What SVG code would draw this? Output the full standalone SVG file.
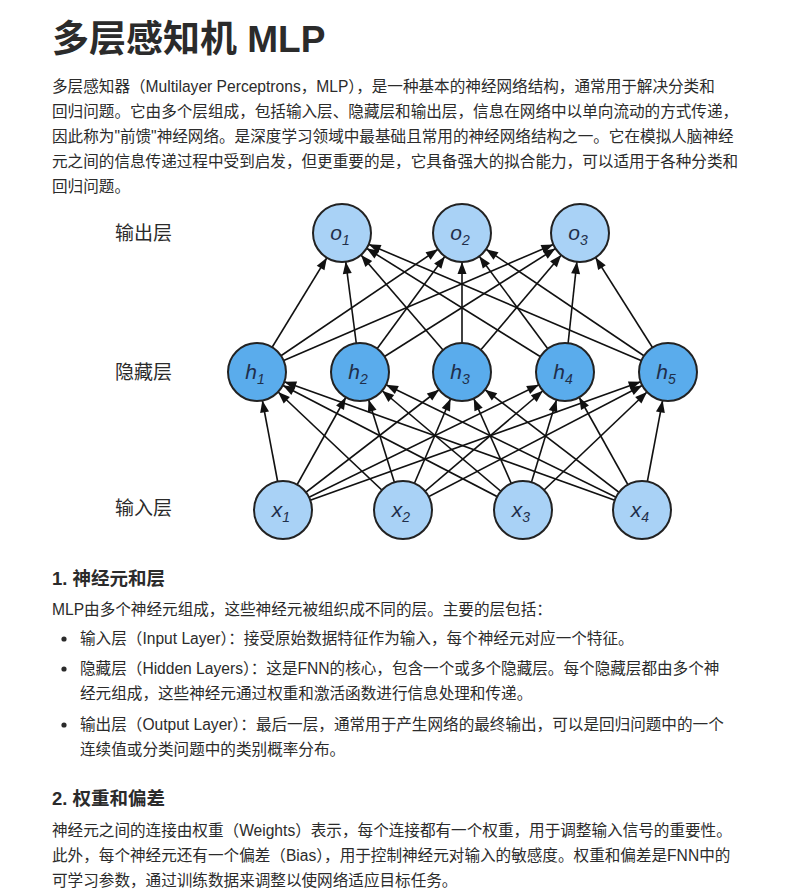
<svg xmlns="http://www.w3.org/2000/svg" width="800" height="890" viewBox="0 0 800 890">
<style>
.t{font-family:"Liberation Sans","Noto Sans CJK SC",sans-serif;fill:#2b2b2b}
.p{font-size:15.6px}
.n{stroke:#222;stroke-width:2}
.io{fill:#a9d2f6}
.h{fill:#5aacec}
.lb{font-family:"Liberation Sans",sans-serif;font-style:italic;font-size:21px;fill:#1f2f4a;text-anchor:middle}
.e{stroke:#111;stroke-width:1.6;marker-end:url(#a)}
</style>
<defs>
<marker id="a" markerUnits="userSpaceOnUse" markerWidth="60" markerHeight="20" viewBox="0 -6 60 12" refX="41" refY="0" orient="auto" overflow="visible">
<path d="M0,-4.5 L12,0 L0,4.5 Z" fill="#111"/>
</marker>
</defs>
<rect width="800" height="890" fill="#fff"/>
<text class="t" x="52" y="52" font-size="37" font-weight="bold">多层感知机 MLP</text>
<g class="t p">
<text x="52" y="92">多层感知器（Multilayer Perceptrons，MLP），是一种基本的神经网络结构，通常用于解决分类和</text>
<text x="52" y="117">回归问题。它由多个层组成，包括输入层、隐藏层和输出层，信息在网络中以单向流动的方式传递，</text>
<text x="52" y="142">因此称为"前馈"神经网络。是深度学习领域中最基础且常用的神经网络结构之一。它在模拟人脑神经</text>
<text x="52" y="167">元之间的信息传递过程中受到启发，但更重要的是，它具备强大的拟合能力，可以适用于各种分类和</text>
<text x="52" y="192">回归问题。</text>
</g>
<g class="t" font-size="19">
<text x="115" y="240">输出层</text>
<text x="115" y="379">隐藏层</text>
<text x="115" y="515">输入层</text>
</g>
<g id="connectors">
<line class="e" x1="283" y1="510" x2="257" y2="372"/><line class="e" x1="283" y1="510" x2="360" y2="372"/><line class="e" x1="283" y1="510" x2="462" y2="372"/><line class="e" x1="283" y1="510" x2="565" y2="372"/><line class="e" x1="283" y1="510" x2="668" y2="372"/>
<line class="e" x1="403" y1="510" x2="257" y2="372"/><line class="e" x1="403" y1="510" x2="360" y2="372"/><line class="e" x1="403" y1="510" x2="462" y2="372"/><line class="e" x1="403" y1="510" x2="565" y2="372"/><line class="e" x1="403" y1="510" x2="668" y2="372"/>
<line class="e" x1="523" y1="510" x2="257" y2="372"/><line class="e" x1="523" y1="510" x2="360" y2="372"/><line class="e" x1="523" y1="510" x2="462" y2="372"/><line class="e" x1="523" y1="510" x2="565" y2="372"/><line class="e" x1="523" y1="510" x2="668" y2="372"/>
<line class="e" x1="642" y1="510" x2="257" y2="372"/><line class="e" x1="642" y1="510" x2="360" y2="372"/><line class="e" x1="642" y1="510" x2="462" y2="372"/><line class="e" x1="642" y1="510" x2="565" y2="372"/><line class="e" x1="642" y1="510" x2="668" y2="372"/>
<line class="e" x1="257" y1="372" x2="342" y2="233"/><line class="e" x1="257" y1="372" x2="462" y2="233"/><line class="e" x1="257" y1="372" x2="580" y2="233"/>
<line class="e" x1="360" y1="372" x2="342" y2="233"/><line class="e" x1="360" y1="372" x2="462" y2="233"/><line class="e" x1="360" y1="372" x2="580" y2="233"/>
<line class="e" x1="462" y1="372" x2="342" y2="233"/><line class="e" x1="462" y1="372" x2="462" y2="233"/><line class="e" x1="462" y1="372" x2="580" y2="233"/>
<line class="e" x1="565" y1="372" x2="342" y2="233"/><line class="e" x1="565" y1="372" x2="462" y2="233"/><line class="e" x1="565" y1="372" x2="580" y2="233"/>
<line class="e" x1="668" y1="372" x2="342" y2="233"/><line class="e" x1="668" y1="372" x2="462" y2="233"/><line class="e" x1="668" y1="372" x2="580" y2="233"/>
</g>
<g id="o1"><circle class="n io" cx="342" cy="233" r="29"/><text class="lb" x="340" y="240">o<tspan font-size="14" dy="5">1</tspan></text></g>
<g id="o2"><circle class="n io" cx="462" cy="233" r="29"/><text class="lb" x="460" y="240">o<tspan font-size="14" dy="5">2</tspan></text></g>
<g id="o3"><circle class="n io" cx="580" cy="233" r="29"/><text class="lb" x="578" y="240">o<tspan font-size="14" dy="5">3</tspan></text></g>
<g id="h1"><circle class="n h" cx="257" cy="372" r="29"/><text class="lb" x="255" y="379">h<tspan font-size="14" dy="5">1</tspan></text></g>
<g id="h2"><circle class="n h" cx="360" cy="372" r="29"/><text class="lb" x="358" y="379">h<tspan font-size="14" dy="5">2</tspan></text></g>
<g id="h3"><circle class="n h" cx="462" cy="372" r="29"/><text class="lb" x="460" y="379">h<tspan font-size="14" dy="5">3</tspan></text></g>
<g id="h4"><circle class="n h" cx="565" cy="372" r="29"/><text class="lb" x="563" y="379">h<tspan font-size="14" dy="5">4</tspan></text></g>
<g id="h5"><circle class="n h" cx="668" cy="372" r="29"/><text class="lb" x="666" y="379">h<tspan font-size="14" dy="5">5</tspan></text></g>
<g id="x1"><circle class="n io" cx="283" cy="510" r="29"/><text class="lb" x="281" y="517">x<tspan font-size="14" dy="5">1</tspan></text></g>
<g id="x2"><circle class="n io" cx="403" cy="510" r="29"/><text class="lb" x="401" y="517">x<tspan font-size="14" dy="5">2</tspan></text></g>
<g id="x3"><circle class="n io" cx="523" cy="510" r="29"/><text class="lb" x="521" y="517">x<tspan font-size="14" dy="5">3</tspan></text></g>
<g id="x4"><circle class="n io" cx="642" cy="510" r="29"/><text class="lb" x="640" y="517">x<tspan font-size="14" dy="5">4</tspan></text></g>
<text class="t" x="52" y="585" font-size="18.5" font-weight="bold">1. 神经元和层</text>
<g class="t p">
<text x="52" y="615">MLP由多个神经元组成，这些神经元被组织成不同的层。主要的层包括：</text>
<circle cx="64" cy="639" r="2.6" fill="#2b2b2b"/>
<text x="80" y="644">输入层（Input Layer）：接受原始数据特征作为输入，每个神经元对应一个特征。</text>
<circle cx="64" cy="669" r="2.6" fill="#2b2b2b"/>
<text x="80" y="674">隐藏层（Hidden Layers）：这是FNN的核心，包含一个或多个隐藏层。每个隐藏层都由多个神</text>
<text x="80" y="699">经元组成，这些神经元通过权重和激活函数进行信息处理和传递。</text>
<circle cx="64" cy="725" r="2.6" fill="#2b2b2b"/>
<text x="80" y="730">输出层（Output Layer）：最后一层，通常用于产生网络的最终输出，可以是回归问题中的一个</text>
<text x="80" y="755">连续值或分类问题中的类别概率分布。</text>
</g>
<text class="t" x="52" y="805" font-size="18.5" font-weight="bold">2. 权重和偏差</text>
<g class="t p">
<text x="52" y="836">神经元之间的连接由权重（Weights）表示，每个连接都有一个权重，用于调整输入信号的重要性。</text>
<text x="52" y="861">此外，每个神经元还有一个偏差（Bias），用于控制神经元对输入的敏感度。权重和偏差是FNN中的</text>
<text x="52" y="886">可学习参数，通过训练数据来调整以使网络适应目标任务。</text>
</g>
</svg>
